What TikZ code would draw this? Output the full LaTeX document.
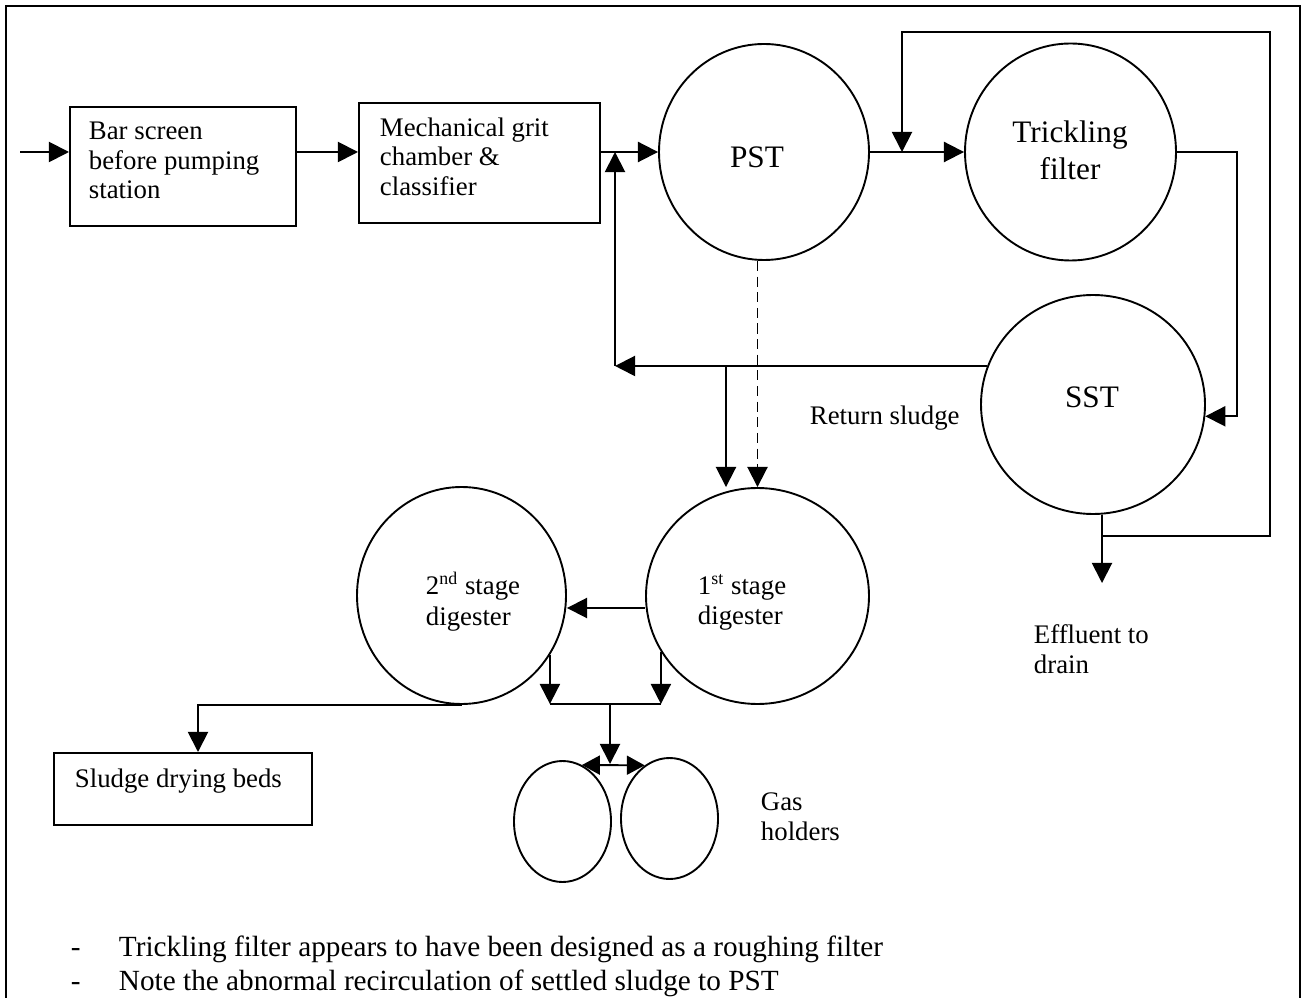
\documentclass[tikz,border=0pt]{standalone}
\usepackage{fontspec}
\setmainfont{Liberation Serif}
\usetikzlibrary{arrows.meta,shapes.geometric}

% one drawing unit
\def\pxu{0.4478pt}

\begin{document}
\begin{tikzpicture}[x=0.4478pt,y=-0.4478pt,line width=0.85pt,
  every node/.style={inner sep=0pt},
  txt/.style={anchor=base west,font=\fontsize{12}{14}\selectfont},
  note/.style={anchor=base west,font=\fontsize{13.1}{15}\selectfont},
  big/.style={anchor=base,font=\fontsize{14}{16}\selectfont},
  tank/.style 2 args={draw,ellipse,minimum width=2*#1*\pxu,minimum height=2*#2*\pxu},
  stage/.style 2 args={draw,rectangle,anchor=north west,minimum width=#1*\pxu,minimum height=#2*\pxu},
  arr/.style={-{Triangle[length=9pt,width=9pt]}},
  dblarr/.style={{Triangle[length=8pt,width=8.5pt]}-{Triangle[length=8pt,width=8.5pt]}},
  sludge/.style={dash pattern=on 4.5pt off 2.5pt}]

\useasboundingbox (0,0) rectangle (1306,998);
\draw[line width=1pt] (6,6) rectangle (1300,1010);

% units
\node[stage={226}{119}] (bar) at (69,106) {};
\node[stage={241}{120}] (grit) at (358,102) {};
\node[stage={258}{72}] (dry) at (53,752) {};
\node[tank={105}{108}] (pst) at (764,152) {};
\node[tank={105.5}{108.5}] (tf) at (1070.5,152) {};
\node[tank={112}{109.5}] (sst) at (1093,404.5) {};
\node[tank={111.5}{108}] (dig1) at (757.5,596) {};
\node[tank={104.5}{108.5}] (dig2) at (461.5,595.5) {};
\node[tank={48.5}{60.5}] (gas1) at (562.5,821.5) {};
\node[tank={48.5}{60.5}] (gas2) at (669.5,818.5) {};

% labels
\node[txt] (barA) at (88,140) {Bar screen};
\node[txt] (barB) at (88,170) {before pumping};
\node[txt] (barC) at (88,199) {station};
\node[txt] (gritA) at (379,137) {Mechanical grit};
\node[txt] (gritB) at (379,166) {chamber \&};
\node[txt] (gritC) at (379,196) {classifier};
\node[big] (pstL) at (757,168) {PST};
\node[big] (tfA) at (1070,143) {Trickling};
\node[big] (tfB) at (1070,180) {filter};
\node[big] (sstL) at (1092,408) {SST};
\node[txt] (retL) at (809,425) {Return sludge};
\node[txt] (d1A) at (697,594) {1\textsuperscript{st} stage};
\node[txt] (d1B) at (697,624) {digester};
\node[txt] (d2A) at (425,594) {2\textsuperscript{nd} stage};
\node[txt] (d2B) at (425,625) {digester};
\node[txt] (effA) at (1033,643) {Effluent to};
\node[txt] (effB) at (1033,673) {drain};
\node[txt] (dryL) at (74,787) {Sludge drying beds};
\node[txt] (gasA) at (760,810) {Gas};
\node[txt] (gasB) at (760,840) {holders};
\node[note] (n1d) at (70,956) {-};
\node[note] (n1) at (118,956) {Trickling filter appears to have been designed as a roughing filter};
\node[note] (n2d) at (70,990) {-};
\node[note] (n2) at (118,990) {Note the abnormal recirculation of settled sludge to PST};

% routing points
\coordinate (inlet) at (20,152);
\coordinate (fbx) at (902,32);
\coordinate (fbcorner) at (1270,32);
\coordinate (tfx) at (1237,0);
\coordinate (outx) at (1102,0);
\coordinate (split) at (1102,536);
\coordinate (efftip) at (1102,583);
\coordinate (ret) at (615,0);
\coordinate (branch) at (726,0);
\coordinate (lvl) at (0,608);
\coordinate (bus) at (0,704);
\coordinate (gasmid) at (610,0);
\coordinate (gastip) at (610,764);
\coordinate (dryx) at (198,0);

% main flow
\draw[arr] (inlet) -- (bar.west |- inlet);
\draw[arr] (bar.east |- inlet) -- (grit.west |- inlet);
\draw[arr] (grit.east |- inlet) -- (pst.west);
\draw[arr] (pst.east) -- (tf.west);
\draw[arr] (tf.east) -| (tfx |- sst.-6) -- (sst.-6);
\draw[arr] (outx |- sst.south) -- (efftip);
\draw[arr] (split) -| (fbcorner) -- (fbx) -- (fbx |- pst.east);

% return sludge
\draw[arr] (sst.160) -- (sst.160 -| ret);
\draw[arr] (sst.160 -| ret) -- (ret |- inlet);
\draw[arr] (sst.160 -| branch) -- (branch |- dig1.north);
\draw[arr,sludge] (dig1.north |- pst.south) -- (dig1.north);

% digesters and gas
\draw[arr] (dig1.west |- lvl) -- (dig2.east |- lvl);
\draw[arr] (dig2.-34) -- (dig2.-34 |- bus);
\draw[arr] (dig1.-150) -- (dig1.-150 |- bus);
\draw (dig2.-34 |- bus) -- (dig1.-150 |- bus);
\draw[arr] (gasmid |- bus) -- (gastip);
\draw[dblarr] (gas1.71) -- (gas2.115);
\draw[arr] (dig2.south) -| (dryx |- dry.north);
\end{tikzpicture}
\end{document}
